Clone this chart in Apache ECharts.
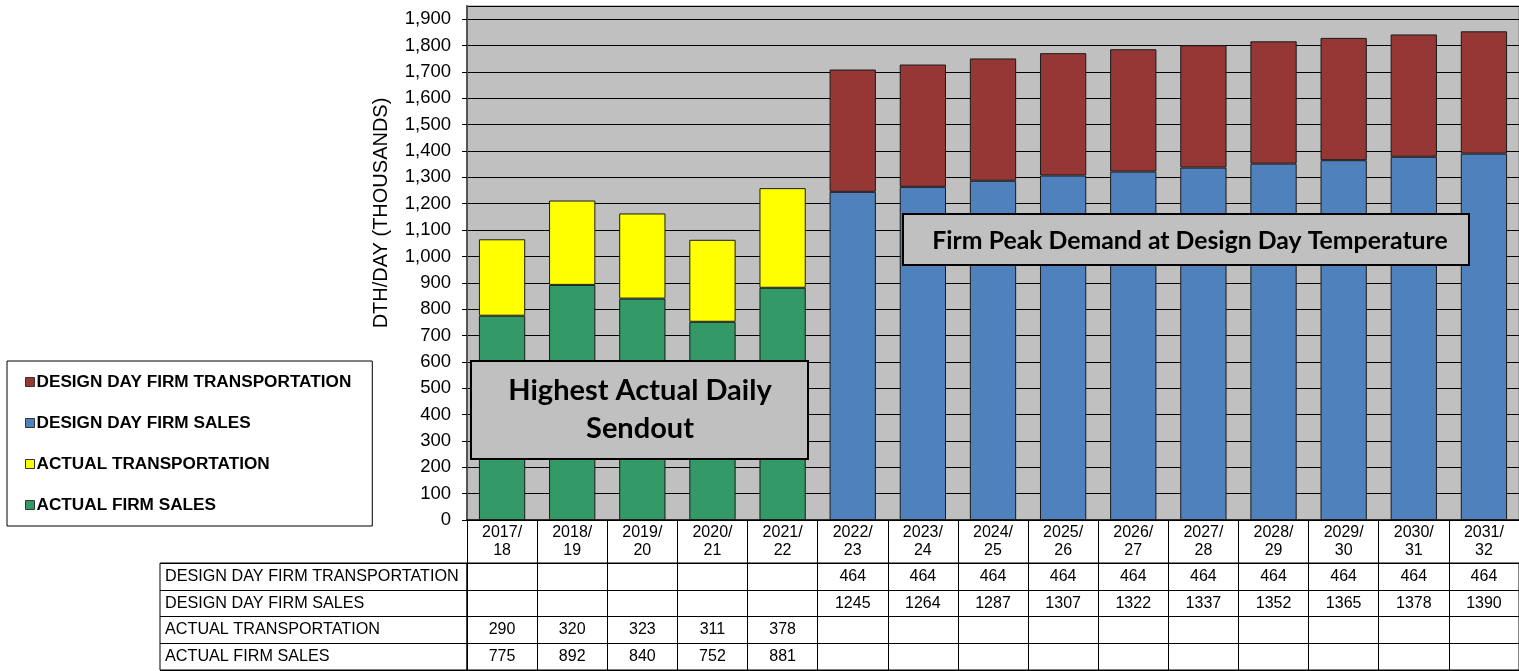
<!DOCTYPE html>
<html>
<head>
<meta charset="utf-8">
<script src="https://cdn.jsdelivr.net/npm/echarts@6/dist/echarts.min.js"></script>
<style>
  html, body { margin: 0; padding: 0; background: #fff; }
  #chart { width: 1519px; height: 671px; }
</style>
</head>
<body>
<div id="chart"></div>
<script>
// winter seasons on the category axis
var seasons = ['2017/\n18', '2018/\n19', '2019/\n20', '2020/\n21', '2021/\n22',
    '2022/\n23', '2023/\n24', '2024/\n25', '2025/\n26', '2026/\n27',
    '2027/\n28', '2028/\n29', '2029/\n30', '2030/\n31', '2031/\n32'];

// values in thousands of dth/day
var actualFirmSales = [775, 892, 840, 752, 881, null, null, null, null, null, null, null, null, null, null];
var actualTransport = [290, 320, 323, 311, 378, null, null, null, null, null, null, null, null, null, null];
var designFirmSales = [null, null, null, null, null, 1245, 1264, 1287, 1307, 1322, 1337, 1352, 1365, 1378, 1390];
var designTransport = [null, null, null, null, null, 464, 464, 464, 464, 464, 464, 464, 464, 464, 464];

var rowNames = ['DESIGN DAY FIRM TRANSPORTATION', 'DESIGN DAY FIRM SALES', 'ACTUAL TRANSPORTATION', 'ACTUAL FIRM SALES'];
var rowValues = [designTransport, designFirmSales, actualTransport, actualFirmSales];

var FONT = "'Liberation Sans', Arial, sans-serif";

// cells of the data table under the chart
var tableCells = [];
rowValues.forEach(function (row, r) {
    row.forEach(function (v, c) {
        if (v != null) tableCells.push([c, r, v]);
    });
});

function barSeries(name, data, color) {
    return {
        name: name,
        type: 'bar',
        stack: 'total',
        data: data,
        barCategoryGap: '34%',
        itemStyle: { color: color, borderColor: '#1a1a1a', borderWidth: 1 }
    };
}

var option = {
    animation: false,
    grid: [
        { left: 467, right: 0, top: 6, bottom: 151, show: true, backgroundColor: '#c0c0c0', borderColor: '#808080', borderWidth: 1 },
        { left: 467, right: 0, top: 563, height: 107, show: true, borderColor: '#000', borderWidth: 1 },
        { left: 160, width: 307, top: 563, height: 107, show: true, borderColor: '#000', borderWidth: 1 }
    ],
    xAxis: [
        {
            type: 'category', gridIndex: 0, data: seasons,
            axisLine: { lineStyle: { color: '#000', width: 1.5 } },
            axisTick: { show: true, interval: 0, length: 43, lineStyle: { color: '#000' } },
            axisLabel: { interval: 0, margin: 4, color: '#000', fontFamily: FONT, fontSize: 16, lineHeight: 18 }
        },
        {
            type: 'category', gridIndex: 1, data: seasons,
            axisLine: { show: false }, axisTick: { show: false }, axisLabel: { show: false },
            splitLine: { show: true, interval: 0, lineStyle: { color: '#000' } }
        },
        {
            type: 'category', gridIndex: 2, data: [''],
            axisLine: { show: false }, axisTick: { show: false }, axisLabel: { show: false }
        }
    ],
    yAxis: [
        {
            type: 'value', gridIndex: 0, min: 0, max: 1950, interval: 100,
            axisLine: { show: true, lineStyle: { color: '#555', width: 2 } },
            axisTick: { show: true, length: 5, lineStyle: { color: '#000' } },
            axisLabel: {
                color: '#000', fontFamily: FONT, fontSize: 18.5, margin: 16, showMaxLabel: false,
                formatter: function (v) { return v > 1900 ? '' : v.toLocaleString('en-US'); }
            },
            splitLine: { show: true, lineStyle: { color: '#000', width: 1 } }
        },
        {
            type: 'category', gridIndex: 1, data: rowNames, inverse: true,
            axisLine: { show: false }, axisTick: { show: false }, axisLabel: { show: false },
            splitLine: { show: true, interval: 0, lineStyle: { color: '#000' } }
        },
        {
            type: 'category', gridIndex: 2, data: rowNames, inverse: true,
            axisLine: { show: false }, axisTick: { show: false },
            axisLabel: { inside: true, margin: 5, align: 'left', color: '#000', fontFamily: FONT, fontSize: 16.2 },
            splitLine: { show: true, interval: 0, lineStyle: { color: '#000' } }
        }
    ],
    legend: {
        orient: 'vertical',
        left: 7,
        top: 361,
        data: ['DESIGN DAY FIRM TRANSPORTATION', 'DESIGN DAY FIRM SALES', 'ACTUAL TRANSPORTATION', 'ACTUAL FIRM SALES'],
        icon: 'rect',
        itemWidth: 9,
        itemHeight: 9,
        itemGap: 23,
        padding: [12, 21, 12, 18],
        borderColor: '#000',
        borderWidth: 1,
        backgroundColor: '#fff',
        itemStyle: { borderColor: '#333', borderWidth: 1 },
        textStyle: { color: '#000', fontFamily: FONT, fontSize: 17.2, fontWeight: 'bold', lineHeight: 18, padding: [0, 0, 0, -3] }
    },
    series: [
        barSeries('ACTUAL FIRM SALES', actualFirmSales, '#339966'),
        barSeries('ACTUAL TRANSPORTATION', actualTransport, '#ffff00'),
        barSeries('DESIGN DAY FIRM SALES', designFirmSales, '#4f81bd'),
        barSeries('DESIGN DAY FIRM TRANSPORTATION', designTransport, '#953735'),
        {
            type: 'scatter',
            xAxisIndex: 1,
            yAxisIndex: 1,
            data: tableCells,
            symbolSize: 1,
            itemStyle: { color: 'rgba(0,0,0,0)' },
            label: {
                show: true, position: 'inside', color: '#000', opacity: 1, textBorderWidth: 0,
                fontFamily: FONT, fontSize: 16,
                formatter: function (p) { return p.value[2]; }
            }
        }
    ],
    graphic: [
        {
            type: 'text', x: 381, y: 213, rotation: Math.PI / 2,
            style: { text: 'DTH/DAY (THOUSANDS)', font: '20px ' + FONT, fill: '#000', align: 'center', verticalAlign: 'middle' }
        },
        {
            type: 'rect', z: 100, shape: { x: 471, y: 361, width: 337, height: 98 },
            style: { fill: '#c0c0c0', stroke: '#000', lineWidth: 2 }
        },
        {
            type: 'text', z: 101, x: 640, y: 410,
            style: { text: 'Highest Actual Daily\nSendout', font: 'bold 29px Lato, sans-serif', lineHeight: 38, fill: '#000', align: 'center', verticalAlign: 'middle' }
        },
        {
            type: 'rect', z: 100, shape: { x: 903, y: 214, width: 566, height: 51 },
            style: { fill: '#c0c0c0', stroke: '#000', lineWidth: 2 }
        },
        {
            type: 'text', z: 101, x: 1190, y: 241,
            style: { text: 'Firm Peak Demand at Design Day Temperature', font: 'bold 24.8px Lato, sans-serif', fill: '#000', align: 'center', verticalAlign: 'middle' }
        }
    ]
};

var myChart = echarts.init(document.getElementById('chart'));
myChart.setOption(option);
</script>
</body>
</html>
